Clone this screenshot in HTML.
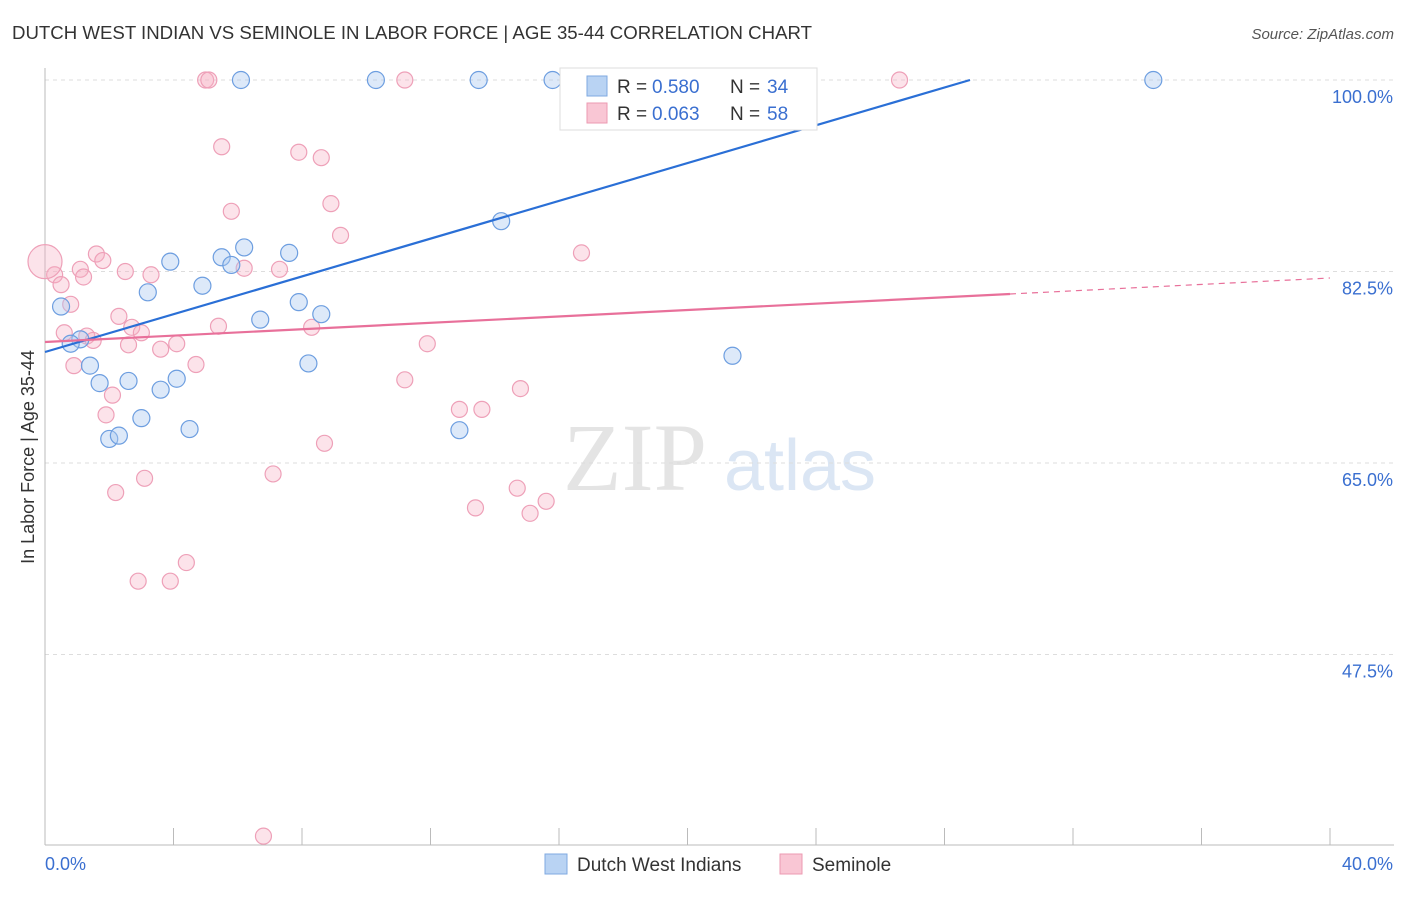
<!DOCTYPE html>
<html><head><meta charset="utf-8"><style>
body{margin:0;background:#fff;font-family:"Liberation Sans",sans-serif}
</style></head><body>
<svg id="c" width="1406" height="892" xmlns="http://www.w3.org/2000/svg">
<text x="12" y="39" font-size="18.5" fill="#333" textLength="800" lengthAdjust="spacingAndGlyphs">DUTCH WEST INDIAN VS SEMINOLE IN LABOR FORCE | AGE 35-44 CORRELATION CHART</text>
<text x="1394" y="39" font-size="15" fill="#555" font-style="italic" text-anchor="end">Source: ZipAtlas.com</text>
<text x="635" y="490" font-size="96" fill="#e4e4e4" font-family="Liberation Serif,serif" text-anchor="middle">ZIP</text>
<text x="800" y="490" font-size="72" fill="#dbe6f4" text-anchor="middle">atlas</text>
<text transform="translate(34,457) rotate(-90)" font-size="18" fill="#333" text-anchor="middle">In Labor Force | Age 35-44</text>
<g id="grid"></g><g id="marks"></g>
<g>
<rect x="560" y="68" width="257" height="62" fill="#fff" stroke="#ddd"/>
<rect x="587" y="76" width="20" height="20" fill="#b9d3f3" stroke="#7fa9e0"/>
<text x="617" y="93" font-size="19" fill="#333">R =</text>
<text x="652" y="93" font-size="19" fill="#3a6fd0">0.580</text>
<text x="730" y="93" font-size="19" fill="#333">N =</text>
<text x="767" y="93" font-size="19" fill="#3a6fd0">34</text>
<rect x="587" y="103" width="20" height="20" fill="#f9c6d4" stroke="#ec9ab2"/>
<text x="617" y="120" font-size="19" fill="#333">R =</text>
<text x="652" y="120" font-size="19" fill="#3a6fd0">0.063</text>
<text x="730" y="120" font-size="19" fill="#333">N =</text>
<text x="767" y="120" font-size="19" fill="#3a6fd0">58</text>
</g>
<g>
<rect x="545" y="854" width="22" height="20" fill="#b9d3f3" stroke="#7fa9e0"/>
<text x="577" y="871" font-size="19" fill="#333">Dutch West Indians</text>
<rect x="780" y="854" width="22" height="20" fill="#f9c6d4" stroke="#ec9ab2"/>
<text x="812" y="871" font-size="19" fill="#333">Seminole</text>
</g>
</svg>
<script>
const yTicks=[100,82.5,65,47.5];
const xTickLabels=["0.0%","40.0%"];
const blueX=[6.1,10.3,13.5,15.8,16.4,34.5,14.2,6.2,7.6,5.5,3.9,5.8,3.2,4.9,0.5,7.9,8.6,6.7,1.1,0.8,1.4,8.2,21.4,1.7,2.6,4.1,3.6,3.0,2.0,2.3,4.5,12.9];
const blueY=[100,100,100,100,100,100,87.1,84.7,84.2,83.8,83.4,83.1,80.6,81.2,79.3,79.7,78.6,78.1,76.3,75.9,73.9,74.1,74.8,72.3,72.5,72.7,71.7,69.1,67.2,67.5,68.1,68.0];
const pinkX=[5.0,5.1,11.2,26.6,5.5,7.9,8.6,5.8,8.9,9.2,16.7,1.6,1.8,1.1,2.5,3.3,6.2,7.3,0.3,0.5,1.2,0.8,2.3,0.6,2.7,1.3,1.5,3.0,5.4,8.3,2.6,3.6,4.1,11.9,0.9,4.7,11.2,14.8,2.1,1.9,12.9,13.6,8.7,7.1,3.1,2.2,14.7,15.6,13.4,15.1,4.4,2.9,3.9,6.8,0.0];
const pinkY=[100,100,100,100,93.9,93.4,92.9,88.0,88.7,85.8,84.2,84.1,83.5,82.7,82.5,82.2,82.8,82.7,82.2,81.3,82.0,79.5,78.4,76.9,77.4,76.6,76.2,76.9,77.5,77.4,75.8,75.4,75.9,75.9,73.9,74.0,72.6,71.8,71.2,69.4,69.9,69.9,66.8,64.0,63.6,62.3,62.7,61.5,60.9,60.4,55.9,54.2,54.2,30.9,83.4];
const X=v=>45+v/40*1285, Y=v=>80+(100-v)*(191.5/17.5);
const NS="http://www.w3.org/2000/svg";
function mk(t,a,p){const e=document.createElementNS(NS,t);for(const k in a)e.setAttribute(k,a[k]);p.appendChild(e);return e;}
const g=document.getElementById('grid'), m=document.getElementById('marks');
yTicks.forEach(v=>{
 const l=mk('line',{x1:45,x2:1394,y1:Y(v),y2:Y(v),stroke:'#ddd','stroke-dasharray':'4,4'},g);
 
 
 const t=mk('text',{x:1393,y:Y(v)+23,'font-size':18,fill:'#3a6fd0','text-anchor':'end'},g);t.textContent=v.toFixed(1)+'%';
 
 
});
mk('line',{x1:45,x2:45,y1:68,y2:845,stroke:'#bbb'},g);
mk('line',{x1:45,x2:1394,y1:845,y2:845,stroke:'#bbb'},g);
for(let i=0;i<=10;i++){const x=X(i*4);const l=mk('line',{x1:x,x2:x,y1:828,y2:845,stroke:'#bbb'},g);
 
 }
[[0,45,'start'],[1,1393,'end']].forEach(([i,x,a])=>{const t=mk('text',{x:x,y:870,'font-size':18,fill:'#3a6fd0','text-anchor':a},g);t.textContent=xTickLabels[i];
 
 });
pinkX.forEach((x,i)=>{const r=i==pinkX.length-1?17:8;const c=mk('circle',{cx:X(x),cy:Y(pinkY[i]),r:r,fill:'rgba(246,176,196,0.35)',stroke:'#eea0b8','stroke-width':1.2},m);
 
 });
blueX.forEach((x,i)=>{const c=mk('circle',{cx:X(x),cy:Y(blueY[i]),r:8.5,fill:'rgba(170,200,240,0.4)',stroke:'#6d9ee0','stroke-width':1.2},m);
 
 });
let l1=mk('line',{x1:45,y1:352,x2:970,y2:80,stroke:'#2a6fd6','stroke-width':2.2},m);


let l2=mk('line',{x1:45,y1:342,x2:1010,y2:294,stroke:'#e8709a','stroke-width':2.2},m);


let l3=mk('line',{x1:1010,y1:294,x2:1330,y2:278,stroke:'#e8709a','stroke-width':1.2,'stroke-dasharray':'6,5'},m);


</script>
</body></html>
